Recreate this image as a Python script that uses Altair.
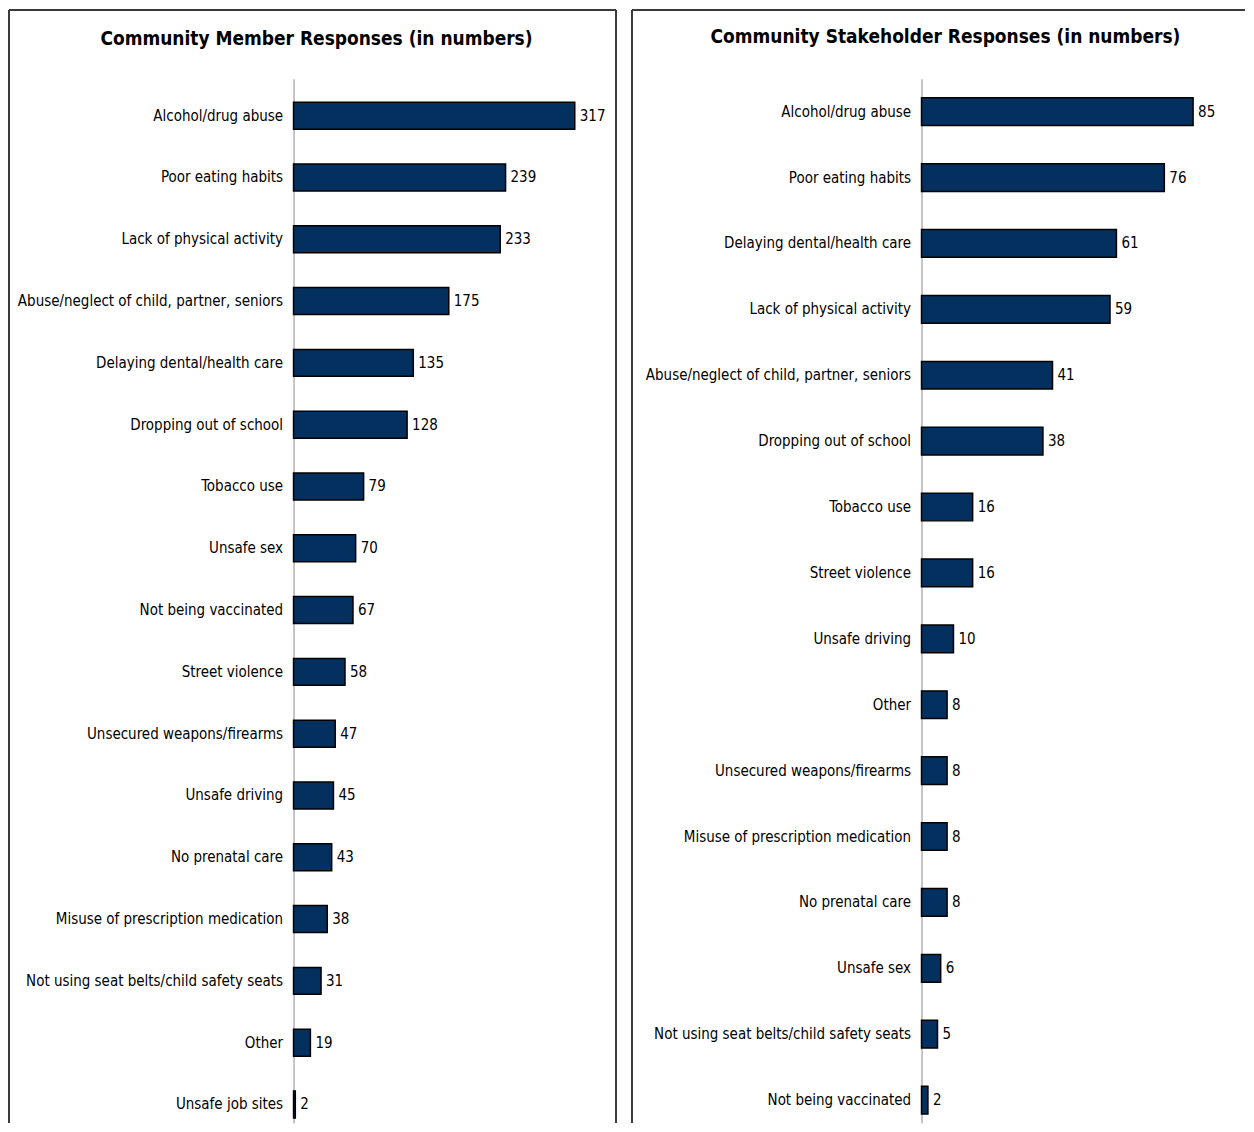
import altair as alt
import pandas as pd

member_categories = [
    "Alcohol/drug abuse", "Poor eating habits", "Lack of physical activity",
    "Abuse/neglect of child, partner, seniors", "Delaying dental/health care",
    "Dropping out of school", "Tobacco use", "Unsafe sex", "Not being vaccinated",
    "Street violence", "Unsecured weapons/firearms", "Unsafe driving",
    "No prenatal care", "Misuse of prescription medication",
    "Not using seat belts/child safety seats", "Other", "Unsafe job sites",
]
member_values = [317, 239, 233, 175, 135, 128, 79, 70, 67, 58, 47, 45, 43, 38, 31, 19, 2]

stake_categories = [
    "Alcohol/drug abuse", "Poor eating habits", "Delaying dental/health care",
    "Lack of physical activity", "Abuse/neglect of child, partner, seniors",
    "Dropping out of school", "Tobacco use", "Street violence", "Unsafe driving",
    "Other", "Unsecured weapons/firearms", "Misuse of prescription medication",
    "No prenatal care", "Unsafe sex", "Not using seat belts/child safety seats",
    "Not being vaccinated",
]
stake_values = [85, 76, 61, 59, 41, 38, 16, 16, 10, 8, 8, 8, 8, 6, 5, 2]

titles = ["Community Member Responses (in numbers)",
          "Community Stakeholder Responses (in numbers)"]

FONT = "DejaVu Sans Condensed"
BAR = "#04305f"
BORDER = "#3a3a3a"


def panel(cats, vals, title, width, height, xmax, p_inner, p_outer, align,
          left, top, right, right_border, title_x, title_y):
    df = pd.DataFrame({"category": cats, "value": vals})
    y = alt.Y(
        "category:N", sort=cats, title=None,
        scale=alt.Scale(paddingInner=p_inner, paddingOuter=p_outer, align=align),
        axis=alt.Axis(domainColor="#8c8c8c", domainWidth=1, ticks=False,
                      labelFontSize=15, labelFont=FONT, labelColor="black",
                      labelPadding=11, labelLimit=400),
    )
    x = alt.X("value:Q", scale=alt.Scale(domain=[0, xmax]), axis=None)
    bars = alt.Chart(df).mark_bar(color=BAR, stroke="black", strokeWidth=1.5).encode(x=x, y=y)
    labels = alt.Chart(df).mark_text(
        align="left", baseline="middle", dx=5, fontSize=15, font=FONT, color="black"
    ).encode(x=x, y=y, text="value:Q")

    one = pd.DataFrame({"t": [title]})
    layers = [bars, labels]
    layers.append(alt.Chart(one).mark_rule(color=BORDER, strokeWidth=2).encode(
        x=alt.value(left), y=alt.value(top), y2=alt.value(height)))
    layers.append(alt.Chart(one).mark_rule(color=BORDER, strokeWidth=2).encode(
        x=alt.value(left), x2=alt.value(right), y=alt.value(top)))
    if right_border:
        layers.append(alt.Chart(one).mark_rule(color=BORDER, strokeWidth=2).encode(
            x=alt.value(right), y=alt.value(top), y2=alt.value(height)))
    layers.append(alt.Chart(one).mark_text(
        fontSize=19, fontWeight="bold", font=FONT, align="center",
        baseline="middle", color="black"
    ).encode(x=alt.value(title_x), y=alt.value(title_y), text="t:N"))
    return alt.layer(*layers).properties(width=width, height=height)


left_panel = panel(member_categories, member_values, titles[0],
                   width=311, height=1046, xmax=350,
                   p_inner=0.564, p_outer=0.231, align=0.82,
                   left=-285, top=-69, right=323, right_border=True,
                   title_x=23, title_y=-40)

right_panel = panel(stake_categories, stake_values, titles[1],
                    width=304, height=1046, xmax=95,
                    p_inner=0.58, p_outer=0.214, align=0.675,
                    left=-290, top=-69, right=324, right_border=False,
                    title_x=24, title_y=-42)

chart = alt.hconcat(left_panel, right_panel, spacing=14).properties(
    padding=0
).configure_view(stroke=None)

chart.save("out.html", embed_options={"renderer": "svg", "actions": False})
